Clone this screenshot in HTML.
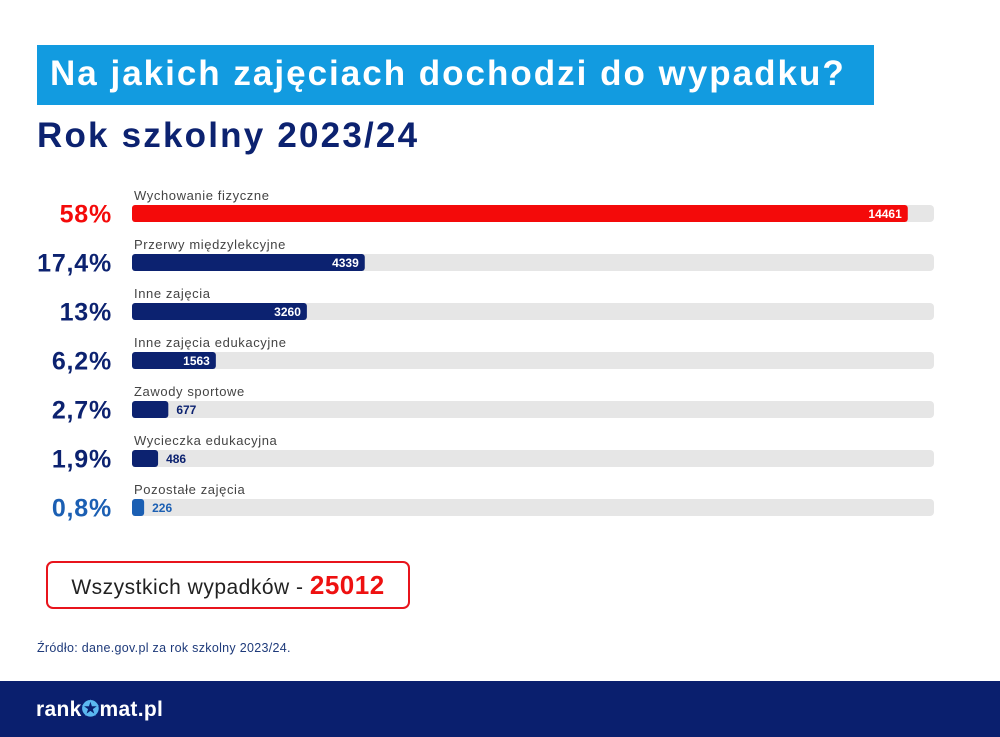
<!DOCTYPE html>
<html><head><meta charset="utf-8"><style>
body{margin:0;width:1000px;height:737px;background:#fff;position:relative;overflow:hidden;font-family:"Liberation Sans",sans-serif}
.abs{position:absolute}
</style></head><body>
<div class="abs" style="left:37px;top:45px;width:837px;height:60px;background:#129be0"></div>
<div class="abs" style="left:50px;top:54px;color:#fff;font-weight:bold;font-size:35px;letter-spacing:2px;white-space:nowrap">Na jakich zajęciach dochodzi do wypadku?</div>
<div class="abs" style="left:37px;top:116px;color:#0c2270;font-weight:bold;font-size:35px;letter-spacing:2.2px;white-space:nowrap">Rok szkolny 2023/24</div>
<svg class="abs" style="left:0;top:0" width="1000" height="560" id="chart"></svg>
<div class="abs" style="left:46px;top:561px;width:360px;height:44px;border:2px solid #e8141c;border-radius:7px;text-align:center;line-height:44px;font-size:21px;color:#222;letter-spacing:0.5px;white-space:nowrap">Wszystkich wypadków - <b style="color:#ee1111;font-size:26px">25012</b></div>
<div class="abs" style="left:37px;top:641px;font-size:12.5px;color:#1e3a7a;letter-spacing:0.3px">Źródło: dane.gov.pl za rok szkolny 2023/24.</div>
<div class="abs" style="left:0;top:681px;width:1000px;height:56px;background:#0a1f6e"></div>
<div class="abs" style="left:36px;top:697px;color:#fff;font-weight:bold;font-size:21px;letter-spacing:0.3px">rank<span style="color:#5bb8f0">✪</span>mat.pl</div>
<script>
const categories=["Wychowanie fizyczne","Przerwy międzylekcyjne","Inne zajęcia","Inne zajęcia edukacyjne","Zawody sportowe","Wycieczka edukacyjna","Pozostałe zajęcia"];
const values=[14461,4339,3260,1563,677,486,226];
const percents=["58%","17,4%","13%","6,2%","2,7%","1,9%","0,8%"];
const NS="http://www.w3.org/2000/svg";
const svg=document.getElementById('chart');
const x0=132,x1=934,maxV=14950,y0=205,step=49,bh=17;
const xs=v=>v/maxV*(x1-x0);
function mk(t,a){const e=document.createElementNS(NS,t);for(const k in a)e.setAttribute(k,a[k]);svg.appendChild(e);return e;}
categories.forEach((c,i)=>{
  const y=y0+i*step;
  const col=i===0?'#f40a0a':(i===6?'#1b5fb3':'#0c2270');
  const tr=mk('rect',{x:x0,y:y,width:x1-x0,height:bh,rx:4,fill:'#e6e6e6'});
  
  
  const w=xs(values[i]);
  const b=mk('rect',{x:x0,y:y,width:Math.max(w,4),height:bh,rx:3,fill:col});
  
  
  const l=mk('text',{x:x0+2,y:y-5,'font-size':13,fill:'#444','letter-spacing':0.6});l.textContent=c;
  
  
  const p=mk('text',{x:112,y:y+bh/2+9,'font-size':25,'font-weight':'bold','text-anchor':'end',fill:col,'letter-spacing':0.8});p.textContent=percents[i];
  
  
  const inside=w>60;
  const v=mk('text',{x:inside?x0+w-6:x0+Math.max(w,4)+8,y:y+bh/2+4.5,'font-size':12,'font-weight':'bold','text-anchor':inside?'end':'start',fill:inside?'#fff':col});
  v.textContent=values[i];
  
  
});
</script>
</body></html>
